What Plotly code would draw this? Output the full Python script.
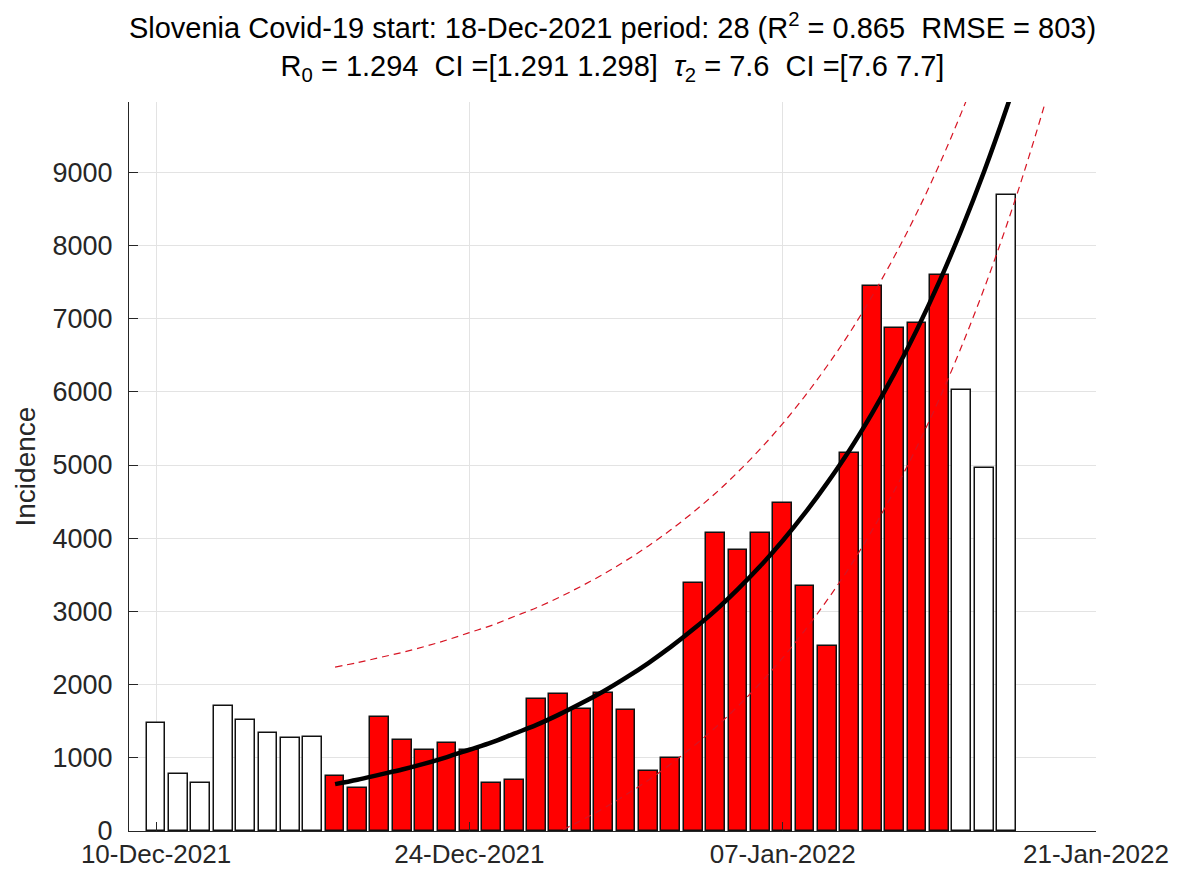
import plotly.graph_objects as go

# ---- data ----
pre_dates = ["2021-12-10", "2021-12-11", "2021-12-12", "2021-12-13",
             "2021-12-14", "2021-12-15", "2021-12-16", "2021-12-17"]
pre_values = [1480, 779, 660, 1712, 1516, 1343, 1266, 1284]

fit_dates = ["2021-12-18", "2021-12-19", "2021-12-20", "2021-12-21", "2021-12-22",
             "2021-12-23", "2021-12-24", "2021-12-25", "2021-12-26", "2021-12-27",
             "2021-12-28", "2021-12-29", "2021-12-30", "2021-12-31", "2022-01-01",
             "2022-01-02", "2022-01-03", "2022-01-04", "2022-01-05", "2022-01-06",
             "2022-01-07", "2022-01-08", "2022-01-09", "2022-01-10", "2022-01-11",
             "2022-01-12", "2022-01-13", "2022-01-14"]
fit_values = [756, 583, 1557, 1243, 1107, 1207, 1107, 660, 697, 1808,
              1867, 1671, 1890, 1653, 815, 993, 3388, 4067, 3835, 4067,
              4477, 3347, 2532, 5160, 7441, 6876, 6936, 7600]

post_dates = ["2022-01-15", "2022-01-16", "2022-01-17"]
post_values = [6020, 4964, 8684]

curve_dates = ["2021-12-18", "2021-12-19", "2021-12-20", "2021-12-21", "2021-12-22",
               "2021-12-23", "2021-12-24", "2021-12-25", "2021-12-26", "2021-12-27",
               "2021-12-28", "2021-12-29", "2021-12-30", "2021-12-31", "2022-01-01",
               "2022-01-02", "2022-01-03", "2022-01-04", "2022-01-05", "2022-01-06",
               "2022-01-07", "2022-01-08", "2022-01-09", "2022-01-10", "2022-01-11",
               "2022-01-12", "2022-01-13", "2022-01-14", "2022-01-15", "2022-01-16",
               "2022-01-17", "2022-01-18", "2022-01-19", "2022-01-20"]
curve_fit = [640, 700, 770, 840, 920, 1010, 1110, 1210, 1330, 1450,
             1590, 1745, 1910, 2095, 2295, 2515, 2755, 3015, 3305, 3620,
             3965, 4345, 4760, 5210, 5710, 6255, 6850, 7505, 8225, 9010,
             9870, 10810, 11840, 12970]
curve_upper = [2240, 2300, 2370, 2440, 2520, 2610, 2710, 2810, 2930, 3050,
               3190, 3345, 3510, 3695, 3895, 4115, 4355, 4615, 4905, 5220,
               5565, 5945, 6360, 6810, 7310, 7855, 8450, 9105, 9825, 10610,
               11470, 12410, 13440, 14570]
curve_lower = [-960, -900, -830, -760, -680, -590, -490, -390, -270, -150,
               -10, 145, 310, 495, 695, 915, 1155, 1415, 1705, 2020,
               2365, 2745, 3160, 3610, 4110, 4655, 5250, 5905, 6625, 7410,
               8270, 9210, 10240, 11370]

x_tick_vals = ["2021-12-10", "2021-12-24", "2022-01-07", "2022-01-21"]
x_tick_text = ["10-Dec-2021", "24-Dec-2021", "07-Jan-2022", "21-Jan-2022"]
y_tick_vals = [0, 1000, 2000, 3000, 4000, 5000, 6000, 7000, 8000, 9000]

title_text = ("Slovenia Covid-19 start: 18-Dec-2021 period: 28 (R<sup>2</sup> = 0.865\u00a0\u00a0RMSE = 803)"
              "<br>R<sub>0</sub> = 1.294\u00a0\u00a0CI =[1.291 1.298]\u00a0\u00a0<i>\u03c4</i><sub>2</sub> = 7.6\u00a0\u00a0CI =[7.6 7.7]")

DAY_MS = 86400000
bar_w = 0.84 * DAY_MS
FONT = "Liberation Sans, Arial, sans-serif"
AX = "#262626"
EDGE = dict(color="#111111", width=1.5)

# page body has an 8px default margin, so the figure is sized to fit inside it
W, H = 1169, 860

fig = go.Figure()
fig.add_trace(go.Bar(x=pre_dates, y=pre_values, width=bar_w,
                     marker=dict(color="white", line=EDGE), showlegend=False))
fig.add_trace(go.Bar(x=fit_dates, y=fit_values, width=bar_w,
                     marker=dict(color="#ff0000", line=EDGE), showlegend=False))
fig.add_trace(go.Bar(x=post_dates, y=post_values, width=bar_w,
                     marker=dict(color="white", line=EDGE), showlegend=False))
fig.add_trace(go.Scatter(x=curve_dates, y=curve_upper, mode="lines", line_shape="spline",
                         line=dict(color="rgb(215,20,35)", width=1.2, dash="7px,5px"),
                         showlegend=False))
fig.add_trace(go.Scatter(x=curve_dates, y=curve_lower, mode="lines", line_shape="spline",
                         line=dict(color="rgb(215,20,35)", width=1.2, dash="7px,5px"),
                         showlegend=False))
fig.add_trace(go.Scatter(x=curve_dates, y=curve_fit, mode="lines", line_shape="spline",
                         line=dict(color="black", width=4.5), showlegend=False))

fig.update_layout(
    width=W, height=H,
    margin=dict(l=121, r=81, t=94, b=37, autoexpand=False),
    paper_bgcolor="white", plot_bgcolor="white",
    barmode="overlay", bargap=0,
    font=dict(family=FONT, size=27, color=AX),
    title=dict(text=title_text, x=0.5, xref="paper", xanchor="center",
               y=1 - 30 / H, yref="container", yanchor="top", automargin=False,
               font=dict(family=FONT, size=29, color="black")),
    annotations=[dict(text="Incidence", textangle=-90, xref="paper", yref="paper",
                      x=(17 - 121) / 967, y=0.5, xanchor="center", yanchor="middle",
                      showarrow=False, font=dict(family=FONT, size=28, color=AX))],
)
fig.update_xaxes(type="date", range=["2021-12-08 19:00", "2022-01-21"],
                 tickmode="array", tickvals=x_tick_vals, ticktext=x_tick_text,
                 tickfont=dict(size=26),
                 showline=True, linecolor=AX, linewidth=1, ticks="inside", ticklen=9,
                 tickcolor=AX, showgrid=True, gridcolor="#e3e3e3", gridwidth=1,
                 zeroline=False, ticklabelstandoff=0, automargin=False)
fig.update_yaxes(range=[0, 9960], tickmode="array", tickvals=y_tick_vals,
                 showline=True, linecolor=AX, linewidth=1, ticks="inside", ticklen=9,
                 tickcolor=AX, showgrid=True, gridcolor="#e3e3e3", gridwidth=1,
                 zeroline=False, ticklabelstandoff=10, automargin=False)

fig.write_html("out.html")
